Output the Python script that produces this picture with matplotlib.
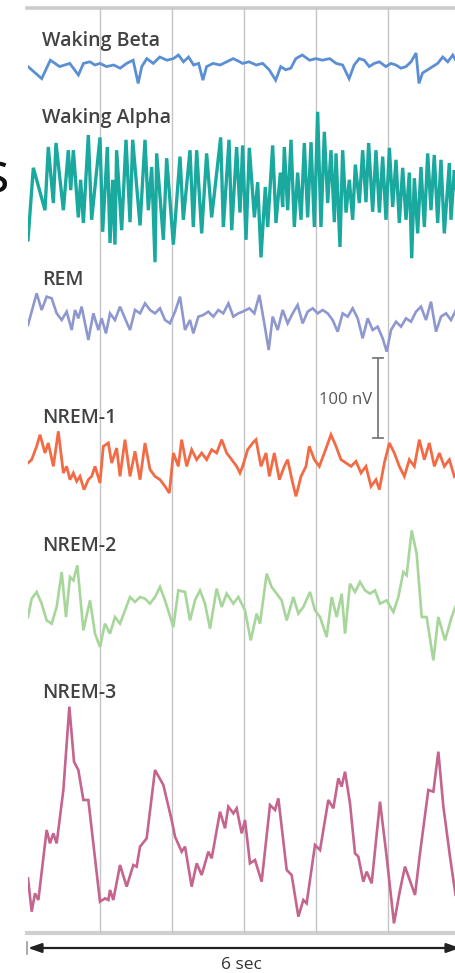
import numpy as np
import matplotlib
matplotlib.use("Agg")
import matplotlib.pyplot as plt

# ---------------- data (time in s, amplitude in nV) ----------------
beta_t = [0.0, 0.19, 0.31, 0.44, 0.58, 0.70, 0.77, 0.86, 0.93, 1.00, 1.09, 1.19, 1.28, 1.37,
          1.46, 1.53, 1.58, 1.65, 1.74, 1.83, 1.93, 2.02, 2.09, 2.16, 2.23, 2.30, 2.37, 2.43,
          2.48, 2.57, 2.67, 2.76, 2.85, 2.94, 2.98, 3.07, 3.17, 3.26, 3.35, 3.44, 3.51, 3.58,
          3.65, 3.72, 3.81, 3.91, 4.00, 4.09, 4.19, 4.28, 4.37, 4.46, 4.53, 4.60, 4.67, 4.74,
          4.81, 4.88, 4.97, 5.04, 5.11, 5.18, 5.25, 5.32, 5.39, 5.43, 5.48, 5.55, 5.62, 5.69,
          5.76, 5.83, 5.90, 5.94, 6.0]
beta_v = [-2, -17, 6, -2, 2, -12.5, 2, 4, 0, 2, -2, 0, -4, 2,
          6, -23, -2, 8, 2, 10, 6, 8, 12.5, 4, 10, 0, 2, -19,
          -2, 2, 0, 4, 8, 4, 2, 4, 0, 2, -6, -19, -2, -6,
          -4, 8, 12.5, 6, 8, 6, 8, 2, 0, -17, 0, 8, 6, -2,
          2, 4, -2, 2, 0, -4, -2, 4, 15, -23, -10, -6, -2, 2,
          10, 4, 12.5, 6, 8]

alpha_t = [0.0, 0.074, 0.236, 0.282, 0.352, 0.389, 0.491, 0.560, 0.593, 0.630, 0.699, 0.731,
           0.769, 0.838, 0.884, 1.000, 1.037, 1.102, 1.139, 1.176, 1.208, 1.231, 1.301, 1.361,
           1.417, 1.454, 1.556, 1.625, 1.671, 1.718, 1.764, 1.787, 1.880, 1.926, 2.019, 2.111,
           2.157, 2.250, 2.296, 2.343, 2.412, 2.481, 2.551, 2.676, 2.713, 2.792, 2.829, 2.898,
           2.944, 2.981, 3.028, 3.074, 3.144, 3.190, 3.236, 3.296, 3.329, 3.398, 3.444, 3.505,
           3.537, 3.560, 3.606, 3.653, 3.699, 3.745, 3.792, 3.838, 3.884, 3.931, 3.977, 4.023,
           4.069, 4.116, 4.162, 4.208, 4.255, 4.278, 4.333, 4.370, 4.417, 4.463, 4.509, 4.546,
           4.602, 4.648, 4.694, 4.731, 4.787, 4.833, 4.880, 4.926, 4.972, 5.019, 5.065, 5.111,
           5.157, 5.204, 5.250, 5.296, 5.329, 5.366, 5.412, 5.458, 5.505, 5.551, 5.597, 5.643,
           5.690, 5.736, 5.782, 5.852, 5.875, 5.921, 5.98]
alpha_v = [-56, 34, -19, 60, -10, 65, -19, 56, 6, 56, -28, 19,
           -35, 75, -31, 72, -46, 60, -60, 19, -62, 56, -44, 69,
           -34, 69, -38, 69, -19, 35, -84, 52, -56, 46, -62, 48,
           -31, 56, -40, 56, -48, 52, -28, 72, -40, 69, -44, 60,
           -22, 62, -56, 59, -28, 16, -78, 10, -40, 62, -35, 28,
           -15, 60, -19, 69, -40, 28, -31, 65, -28, 66, -40, 104,
           -40, 79, -10, 56, -34, 52, -65, 56, -22, 19, -31, 38,
           -10, 56, -9, 65, -21, 56, -22, 48, -31, 59, -15, 44,
           -35, 34, -31, 28, -79, 21, -48, 35, -40, 52, -19, 50,
           -35, 44, -48, 40, -31, 31, -25]

rem_t = [0.0, 0.120, 0.190, 0.259, 0.329, 0.398, 0.468, 0.537, 0.607, 0.653, 0.699, 0.745,
         0.792, 0.838, 0.908, 0.977, 1.023, 1.083, 1.139, 1.208, 1.278, 1.347, 1.417, 1.486,
         1.556, 1.625, 1.695, 1.764, 1.833, 1.903, 1.972, 2.042, 2.111, 2.181, 2.250, 2.296,
         2.366, 2.435, 2.505, 2.574, 2.644, 2.713, 2.783, 2.852, 2.921, 2.981, 3.074, 3.144,
         3.213, 3.282, 3.343, 3.398, 3.468, 3.537, 3.606, 3.676, 3.745, 3.815, 3.884, 3.954,
         4.023, 4.093, 4.162, 4.231, 4.301, 4.370, 4.440, 4.509, 4.579, 4.648, 4.718, 4.787,
         4.856, 4.926, 4.982, 5.042, 5.111, 5.181, 5.250, 5.319, 5.389, 5.458, 5.528, 5.597,
         5.667, 5.736, 5.806, 5.875, 5.944, 6.0]
rem_v = [-8.75, 30.8, 10, 26.7, 24.6, 5.8, -2.5, 7.9, -15, 10, -0.4, 14.2,
         -6.7, -27.5, 5.8, -15, -0.4, -19.2, 5.8, -2.5, 14.2, -0.4, -15, 10,
         5.8, 18.3, 10, 5.8, 12.1, -2.5, -6.7, 7.9, 26.7, -15, -2.5, -19.2,
         1.7, 3.75, 7.9, 1.7, 10, 5.8, 18.3, 1.7, 5.8, 7.9, 12.1, 5.8,
         28.75, -6.7, -40, 1.7, -15, 10, -6.7, 5.8, 16.25, -6.7, 7.9, 12.1,
         5.8, 10, 5.8, -2.5, -17.1, 5.8, 1.7, 12.1, -0.4, -25.4, -0.4, -15,
         -10.8, -25.4, -42.1, -15, -4.6, -10.8, -0.4, -4.6, 7.9, 14.2, -2.5, 20.4,
         -17.1, 1.7, 5.8, -2.5, 10, 5]

nrem1_t = [0.0, 0.051, 0.120, 0.167, 0.236, 0.282, 0.352, 0.421, 0.491, 0.537, 0.583, 0.630,
           0.676, 0.722, 0.778, 0.838, 0.884, 0.931, 1.000, 1.046, 1.116, 1.162, 1.231, 1.278,
           1.347, 1.417, 1.486, 1.556, 1.625, 1.695, 1.764, 1.833, 1.903, 1.963, 2.019, 2.088,
           2.134, 2.204, 2.273, 2.343, 2.412, 2.481, 2.551, 2.620, 2.690, 2.759, 2.829, 2.898,
           2.944, 2.981, 3.051, 3.120, 3.167, 3.236, 3.306, 3.352, 3.421, 3.491, 3.560, 3.606,
           3.676, 3.722, 3.792, 3.861, 3.907, 3.977, 4.046, 4.116, 4.208, 4.278, 4.347, 4.417,
           4.486, 4.556, 4.625, 4.694, 4.764, 4.833, 4.880, 4.949, 5.019, 5.088, 5.157, 5.227,
           5.296, 5.366, 5.435, 5.505, 5.574, 5.644, 5.713, 5.782, 5.852, 5.921, 6.0]
nrem1_v = [0, 4.2, 20.8, 35.4, 12.5, 25, -4.2, 39.6, -12.5, -4.2, -20.8, -12.5,
           -22.9, -16.7, -33.3, -20.8, -16.7, -4.2, -25, 20.8, 25, 0, 18.75, -16.7,
           29.2, -16.7, 14.6, -20.8, 25, -8.3, -16.7, -20.8, -29.2, -37.5, 12.5, -4.2,
           29.2, -4.2, 16.7, 4.2, 12.5, 4.2, 16.7, 12.5, 29.2, 12.5, 4.2, -4.2,
           -12.5, -4.2, 16.7, 25, 29.2, -4.2, 12.5, -16.7, 12.5, -20.8, -4.2, 4.2,
           -25, -41.7, -16.7, -4.2, 20.8, 4.2, -4.2, 12.5, 35.4, 20.8, 4.2, 0,
           -4.2, 2.1, -12.5, -4.2, -29.2, -20.8, -33.3, 0, 25, 12.5, -4.2, -16.7,
           4.2, -4.2, 29.2, 4.2, 25, -4.2, 12.5, -4.2, 4.2, -16.7, -10]

nrem2_t = [0.0, 0.051, 0.120, 0.190, 0.259, 0.329, 0.398, 0.468, 0.528, 0.583, 0.630, 0.685,
           0.769, 0.861, 0.931, 1.000, 1.069, 1.139, 1.208, 1.278, 1.347, 1.417, 1.486, 1.556,
           1.625, 1.694, 1.764, 1.833, 1.903, 2.018, 2.088, 2.181, 2.250, 2.319, 2.389, 2.458,
           2.528, 2.620, 2.690, 2.759, 2.852, 2.921, 3.014, 3.093, 3.176, 3.222, 3.315, 3.384,
           3.454, 3.523, 3.593, 3.685, 3.755, 3.824, 3.917, 3.986, 4.056, 4.148, 4.218, 4.287,
           4.357, 4.403, 4.472, 4.542, 4.611, 4.681, 4.750, 4.819, 4.889, 4.981, 5.074, 5.144,
           5.213, 5.259, 5.329, 5.398, 5.468, 5.537, 5.630, 5.699, 5.792, 5.884, 5.935, 6.0]
nrem2_v = [-12.5, 10.4, 18.75, 4.2, -16.7, -20.8, 0, 43.75, -12.5, 37.5, 33.3, 52.1,
           -29.2, 8.3, -33.3, -50, -20.8, -33.3, -12.5, -20.8, -4.2, 12.5, 6.25, 12.5,
           10.4, 4.2, 12.5, 25, 8.3, -25, 20.8, 18.75, -16.7, 8.3, 20.8, 4.2,
           -27.1, 22.9, 0, 16.7, 4.2, 12.5, -4.2, -41.7, -8.3, -20.8, 41.7, 25,
           16.7, 8.3, -16.7, 12.5, -8.3, 0, 18.75, -4.2, -12.5, -37.5, 12.5, -12.5,
           16.7, -33.3, 29.2, 18.75, 31.25, 20.8, 16.7, 20.8, 4.2, 8.3, -6.25, 12.5,
           43.75, 39.6, 95.8, 66.7, -12.5, -12.5, -66.7, -12.5, -41.7, -12.5, 0, -5]

nrem3_t = [0.0, 0.051, 0.097, 0.144, 0.259, 0.305, 0.352, 0.398, 0.491, 0.574, 0.639, 0.699,
           0.769, 0.838, 1.000, 1.069, 1.116, 1.139, 1.185, 1.278, 1.370, 1.463, 1.509, 1.556,
           1.648, 1.764, 1.880, 1.995, 2.042, 2.134, 2.181, 2.273, 2.343, 2.412, 2.505, 2.551,
           2.667, 2.736, 2.782, 2.852, 2.898, 2.968, 3.014, 3.083, 3.153, 3.245, 3.361, 3.431,
           3.477, 3.593, 3.662, 3.755, 3.824, 3.870, 3.986, 4.056, 4.171, 4.241, 4.310, 4.356,
           4.403, 4.472, 4.542, 4.588, 4.657, 4.704, 4.773, 4.889, 4.981, 5.083, 5.167, 5.236,
           5.375, 5.444, 5.560, 5.630, 5.699, 5.769, 5.861, 5.935, 6.0]
nrem3_v = [-47.9, -89.6, -66.7, -75, 12.5, -4.2, 8.3, -4.2, 62.5, 166.7, 97.9, 87.5,
           50, 50, -77.1, -72.9, -75, -62.5, -75, -31.25, -58.3, -31.25, -33.3, -8.3,
           2.1, 87.5, 68.75, 25, 4.2, -14.6, -8.3, -58.3, -29.2, -43.75, -14.6, -22.9,
           35.4, 14.6, 41.7, 33.3, 39.6, 8.3, 25, -29.2, -25, -52.1, 43.75, 37.5,
           52.1, -37.5, -43.75, -95.8, -75, -79.2, -6.25, -12.5, 50, 39.6, 77.1, 66.7,
           85.4, 45.8, -16.7, -20.8, -52.1, -39.6, -54.2, 47.9, -20.8, -104.2, -62.5, -33.3,
           -68.75, -16.7, 62.5, 60.4, 110.4, 41.7, -20.8, -66.7, -60]

labels = ["Waking Beta", "Waking Alpha", "REM", "NREM-1", "NREM-2", "NREM-3"]
series_t = [beta_t, alpha_t, rem_t, nrem1_t, nrem2_t, nrem3_t]
series_v = [beta_v, alpha_v, rem_v, nrem1_v, nrem2_v, nrem3_v]
scale_nv = 100
duration_s = 6
grid_s = [1, 2, 3, 4, 5]

# ---------------- layout / style ----------------
colors = ["#5b8fd4", "#1aa99f", "#8e98cf", "#f26b45", "#a6d69a", "#c5648e"]
linewidths = [2.0, 2.4, 1.9, 2.0, 1.9, 1.9]
baselines = [1085, 922.5, 768.75, 587.5, 407.5, 116.25]     # vertical offsets (nV)
label_base = [1108.75, 1012.5, 810, 637.5, 477.5, 293.75]   # text baselines
label_x = 0.19
ytop = 1156.25

W, H = 456, 973
fig = plt.figure(figsize=(W / 100, H / 100), dpi=100)
ax = fig.add_axes([28 / W, 40 / H, 432 / W, 925 / H])
ax.set_xlim(0, duration_s)
ax.set_ylim(0, ytop)
ax.axis("off")

font = ["Open Sans", "DejaVu Sans"]

# frame lines and second grid
ax.plot([-0.01, 6.1], [ytop, ytop], color="#cbcbcb", lw=2.6, clip_on=False, zorder=1)
ax.plot([-0.01, 6.1], [0, 0], color="#cfcfcf", lw=3.0, clip_on=False, zorder=1)
for g in grid_s:
    ax.plot([g, g], [0, ytop], color="#c4c4c4", lw=1.0, zorder=1)

for t, v, base, c, lw in zip(series_t, series_v, baselines, colors, linewidths):
    ax.plot(t, np.asarray(v) + base, color=c, lw=lw, solid_joinstyle="miter", zorder=3)

for lab, ly in zip(labels, label_base):
    ax.text(label_x, ly, lab, family=font, weight="semibold", fontsize=14,
            color="#424242", va="baseline", ha="left", zorder=4)

# scale bar
sx = 4.86
sb0 = 618.75
ax.plot([sx, sx], [sb0, sb0 + scale_nv], color="#7a7a7a", lw=1.3, zorder=2)
for yy in (sb0, sb0 + scale_nv):
    ax.plot([sx - 0.075, sx + 0.075], [yy, yy], color="#7a7a7a", lw=1.3, zorder=2)
ax.text(sx - 0.08, sb0 + scale_nv / 2 - 2, f"{scale_nv} nV", family=font, fontsize=12,
        color="#555555", ha="right", va="center")

# duration arrow
ay = -18.75
ax.annotate("", xy=(duration_s, ay), xytext=(0, ay),
            arrowprops=dict(arrowstyle="<|-|>,head_length=0.8,head_width=0.28",
                            color="#222222", lw=1.6, shrinkA=0, shrinkB=0),
            annotation_clip=False)
ax.plot([-0.01, -0.01], [ay - 8, ay + 8], color="#9a9a9a", lw=1.2, clip_on=False)
ax.text(2.97, -40, f"{duration_s} sec", family=font, fontsize=12.5, color="#333333",
        ha="center", va="center")

# cut-off heading letter at the left edge (as in the source image)
fig.text(9 / W, 1 - 178 / H, "s", family=font, fontsize=40, color="#111111",
         ha="right", va="center")

fig.savefig("out.png", dpi=100)
